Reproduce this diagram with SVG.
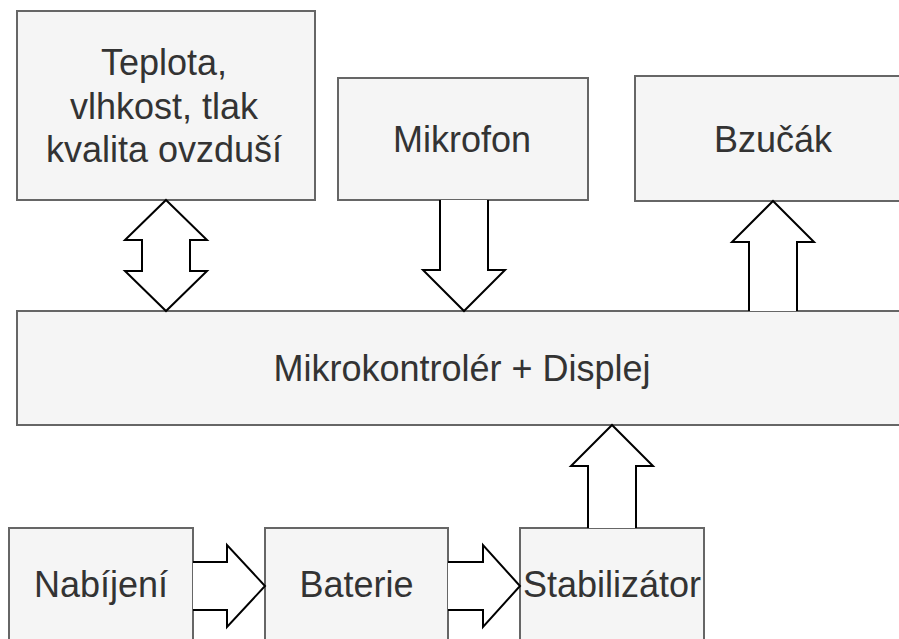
<svg xmlns="http://www.w3.org/2000/svg" width="899" height="639" viewBox="0 0 899 639">
<style>
.box{fill:#f5f5f5;stroke:#666666;stroke-width:2}
.lbl{font-family:"Liberation Sans",Arial,sans-serif;font-size:36px;fill:#333333;text-anchor:middle}
.arr{fill:#ffffff;stroke:#000000;stroke-width:2;stroke-linejoin:miter}
</style>
<rect width="899" height="639" fill="#ffffff"/>
<g id="teplota">
<rect class="box" x="17" y="11" width="298" height="189"/>
<text class="lbl" x="164" y="75">Teplota,</text>
<text class="lbl" x="164" y="118.5">vlhkost, tlak</text>
<text class="lbl" x="164" y="162">kvalita ovzduší</text>
</g>
<g id="mikrofon">
<rect class="box" x="338" y="78" width="250" height="122"/>
<text class="lbl" x="462" y="152">Mikrofon</text>
</g>
<g id="bzucak">
<rect class="box" x="635" y="76" width="276" height="125"/>
<text class="lbl" x="773" y="151.5">Bzučák</text>
</g>
<g id="mikrokontroler">
<rect class="box" x="17" y="311" width="892" height="114"/>
<text class="lbl" x="462" y="381">Mikrokontrolér + Displej</text>
</g>
<g id="nabijeni">
<rect class="box" x="9" y="528" width="184" height="120"/>
<text class="lbl" x="101" y="597">Nabíjení</text>
</g>
<g id="baterie">
<rect class="box" x="265" y="528" width="183" height="120"/>
<text class="lbl" x="356.5" y="597">Baterie</text>
</g>
<g id="stabilizator">
<rect class="box" x="520" y="528" width="184" height="120"/>
<text class="lbl" x="612" y="597">Stabilizátor</text>
</g>
<g id="connectors">
<path class="arr" d="M166 200 L207 240 L190 240 L190 271 L207 271 L166 311 L125 271 L142 271 L142 240 L125 240 Z"/>
<path class="arr" d="M440 200 L440 270 L423 270 L464 311 L505 270 L488 270 L488 200"/>
<path class="arr" d="M749 311 L749 242 L732 242 L773 201 L814 242 L797 242 L797 311"/>
<path class="arr" d="M588 528 L588 466 L571 466 L612 425 L653 466 L636 466 L636 528"/>
<path class="arr" d="M193 562 L227 562 L227 545 L265 586 L227 627 L227 610 L193 610"/>
<path class="arr" d="M448 562 L483 562 L483 545 L520 586 L483 627 L483 610 L448 610"/>
</g>
</svg>
